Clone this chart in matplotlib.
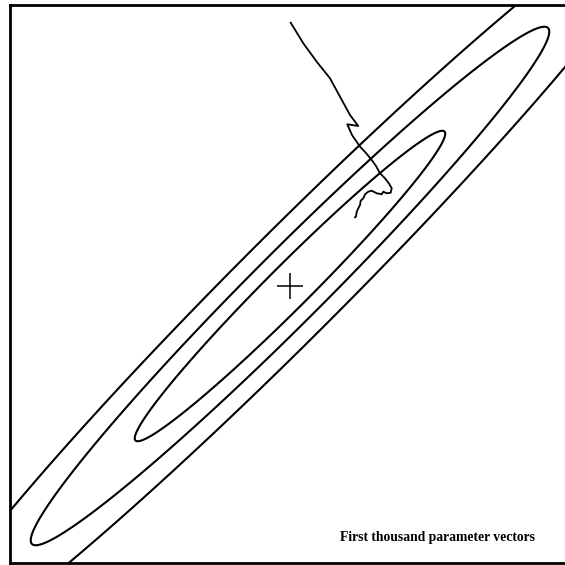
"""Contours of the posterior with the first thousand parameter vectors of a sampler run."""
import matplotlib
matplotlib.use("Agg")
import matplotlib.pyplot as plt
import numpy as np

# posterior (coordinates in the plotted parameter plane, y grows downward)
mean = [290.0, 286.0]
major_sd = 218.5
minor_sd = 21.5
angle_deg = -45.0
levels = [1.0, 1.67, 2.44]   # Mahalanobis radii of the three contours

# path of the first thousand parameter vectors
path_x = [290.7, 303.3, 316.7, 330.0, 340.0, 350.0, 358.3, 347.3, 352.0, 360.0,
          366.0, 371.7, 376.0, 380.0, 385.0, 389.3, 391.7, 390.7, 386.7, 383.3,
          381.7, 376.7, 371.7, 368.3, 365.0, 363.3, 360.7, 360.0, 358.3, 356.7,
          356.0, 355.0]
path_y = [22.7, 43.3, 61.7, 78.3, 96.7, 115.0, 126.0, 124.3, 135.0, 146.7,
          153.0, 160.0, 166.0, 173.3, 178.3, 184.0, 188.3, 192.7, 193.3, 191.7,
          194.3, 193.3, 190.7, 191.7, 194.3, 198.3, 200.7, 205.0, 208.3, 211.7,
          216.7, 217.3]

label = "First thousand parameter vectors"


def main():
    fig = plt.figure(figsize=(5.65, 5.65), dpi=100)
    ax = fig.add_axes([10 / 565, 2 / 565, 1 - 10 / 565, 558 / 565])

    t = np.deg2rad(angle_deg)
    rot = np.array([[np.cos(t), -np.sin(t)], [np.sin(t), np.cos(t)]])
    cov = rot @ np.diag([major_sd ** 2, minor_sd ** 2]) @ rot.T
    prec = np.linalg.inv(cov)

    gx, gy = np.meshgrid(np.linspace(0, 600, 900), np.linspace(-20, 600, 900))
    dx, dy = gx - mean[0], gy - mean[1]
    dist = np.sqrt(prec[0, 0] * dx ** 2 + 2 * prec[0, 1] * dx * dy + prec[1, 1] * dy ** 2)
    ax.contour(gx, gy, dist, levels=levels, colors="black", linewidths=1.5)

    ax.plot(mean[0], mean[1], marker="+", color="black", markersize=19, markeredgewidth=1.1)
    ax.plot(path_x, path_y, color="black", linewidth=1.3)

    ax.text(437, 538, label, ha="center", va="center", fontsize=9.8,
            fontweight="bold", family="Liberation Serif")

    ax.set_xlim(10, 565)
    ax.set_ylim(563, 5)
    ax.set_xticks([])
    ax.set_yticks([])
    ax.spines["right"].set_visible(False)
    for s in ("left", "top", "bottom"):
        ax.spines[s].set_linewidth(2)

    fig.savefig("out.png", dpi=100)


if __name__ == "__main__":
    main()
